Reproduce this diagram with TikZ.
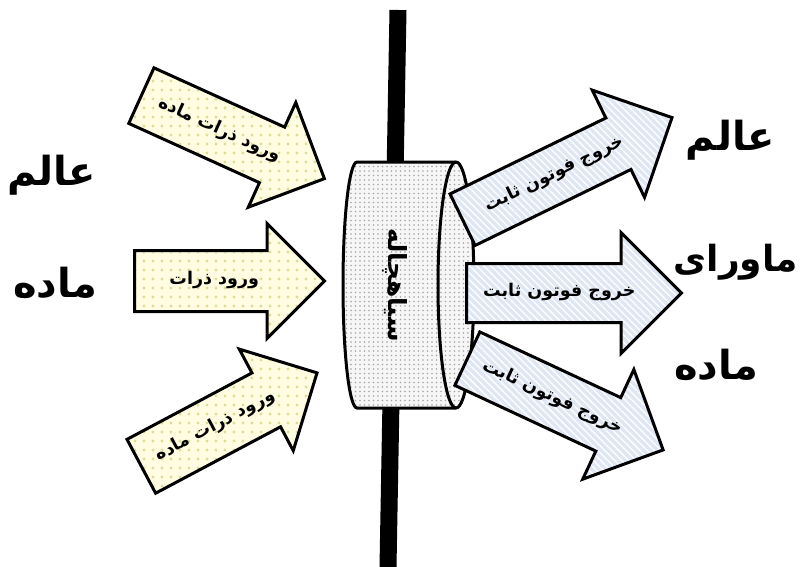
\documentclass[tikz,border=0pt]{standalone}
\usepackage{fontspec}
\usetikzlibrary{shapes.arrows, patterns.meta}
\newfontfamily\fafont[Script=Arabic]{DejaVu Sans}
\TeXXeTstate=1
\definecolor{Cream}{RGB}{255,252,226}
\definecolor{Olive}{RGB}{220,222,150}
\definecolor{Ice}{RGB}{224,231,244}
\definecolor{Smoke}{RGB}{246,246,246}
\definecolor{Speck}{RGB}{165,165,165}

\begin{document}
\begin{tikzpicture}[
    x=1pt, y=-1pt,
    arrowbase/.style={single arrow, draw, line width=3pt, anchor=tail,
                text height=12pt, text depth=5pt, inner xsep=4pt,
                font=\fafont\bfseries\fontsize{17.5}{20}\selectfont},
    inarrow/.style={arrowbase, preaction={fill=Cream},
                pattern={Dots[distance=9pt, radius=1.6pt]}, pattern color=Olive,
                inner ysep=20.5pt, single arrow head extend=27pt},
    outarrow/.style={arrowbase, preaction={fill=Ice},
                pattern={Lines[angle=-45, distance=5pt, line width=1.3pt]},
                pattern color=white,
                inner ysep=19.5pt, single arrow head extend=31pt},
    drum/.style={draw, line width=3pt, preaction={fill=Smoke},
                pattern={Dots[distance=4.5pt, radius=0.8pt]}, pattern color=Speck},
    pole/.style={line width=17pt},
    world/.style={font=\fafont\bfseries\fontsize{40}{44}\selectfont}
    ]
    \useasboundingbox (0,0) rectangle (803,567);

    % the wall between the two worlds
    \coordinate (poleT) at (398,10);
    \coordinate (poleB) at (388,567);
    \draw[pole] (poleT) -- (poleB);

    % black hole drum
    \draw[drum] (357,162) -- (456,162)
        arc[start angle=-90, end angle=90, x radius=18, y radius=123]
        -- (357,408)
        arc[start angle=90, end angle=270, x radius=14, y radius=123] -- cycle;
    \draw[line width=3pt] (456,162)
        arc[start angle=270, end angle=90, x radius=18, y radius=123];
    \node[rotate=-90, font=\fafont\bfseries\fontsize{25}{28}\selectfont]
        (hole) at (395,285) {\beginR سیاهچاله\endR};

    % incoming matter
    \node[inarrow, rotate=-24.4, minimum height=201pt] (inTop) at (140,95)
        {\beginR ورود ذرات ماده\endR};
    \node[inarrow, minimum height=190pt] (inMid) at (133,281)
        {\beginR ورود ذرات\endR};
    \node[inarrow, rotate=28, minimum height=199pt] (inBot) at (140,467)
        {\beginR ورود ذرات ماده\endR};

    % outgoing photons
    \node[outarrow, rotate=26, minimum height=233pt] (outTop) at (462,220)
        {\beginR خروج فوتون ثابت\endR};
    \node[outarrow, minimum height=215pt] (outMid) at (465,293)
        {\beginR خروج فوتون ثابت\endR};
    \node[outarrow, rotate=-25, minimum height=216pt] (outBot) at (466,358)
        {\beginR خروج فوتون ثابت\endR};

    % the two worlds
    \node[world] (matA) at (52,175) {\beginR عالم\endR};
    \node[world] (matB) at (55,283) {\beginR ماده\endR};
    \node[world] (metaA) at (730,140) {\beginR عالم\endR};
    \node[world, font=\fafont\bfseries\fontsize{36}{40}\selectfont]
        (metaB) at (736,262) {\beginR ماورای\endR};
    \node[world] (metaC) at (716,365) {\beginR ماده\endR};
\end{tikzpicture}
\end{document}
